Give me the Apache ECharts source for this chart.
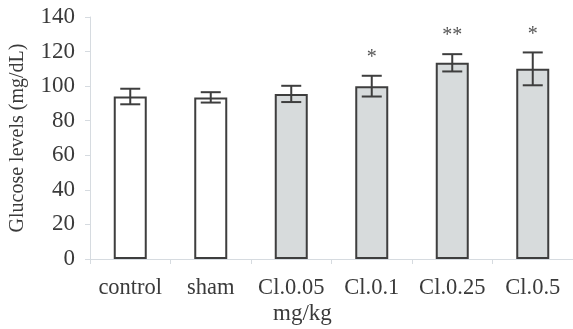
<!DOCTYPE html>
<html><head><meta charset="utf-8">
<script src="https://cdn.jsdelivr.net/npm/echarts@6/dist/echarts.min.js"></script>
<style>html,body{margin:0;padding:0;background:#fff}#c{width:573px;height:329px}</style>
</head><body><div id="c"></div>
<script>
const categories = ['control', 'sham', 'Cl.0.05', 'Cl.0.1', 'Cl.0.25', 'Cl.0.5'];
const means = [94, 93.5, 95.5, 100, 113.5, 110];
const errors = [4.5, 3, 4.7, 6, 5, 9.5];
const signif = ['', '', '', '*', '**', '*'];
const barFills = ['#ffffff', '#ffffff', '#d7dbdc', '#d7dbdc', '#d7dbdc', '#d7dbdc'];
const yTicks = [0, 20, 40, 60, 80, 100, 120, 140];

const chart = echarts.init(document.getElementById('c'), null, {renderer: 'canvas'});
const font = 'Liberation Serif';
chart.setOption({
  animation: false,
  backgroundColor: '#ffffff',
  grid: {left: 82, right: 0, top: 17, bottom: 70, containLabel: false},
  xAxis: {
    type: 'category', data: categories,
    axisLine: {lineStyle: {color: '#d6dbe0', width: 1}},
    axisTick: {show: true, length: 5, lineStyle: {color: '#d6dbe0'}},
    axisLabel: {color: '#3a3a3a', fontFamily: font, fontSize: 22.5, margin: 18, interval: 0, hideOverlap: false}
  },
  yAxis: {
    type: 'value', min: yTicks[0], max: yTicks[yTicks.length - 1], interval: 20,
    name: 'Glucose levels (mg/dL)', nameLocation: 'middle', nameGap: 62, nameRotate: 90,
    nameTextStyle: {color: '#3a3a3a', fontFamily: font, fontSize: 20},
    axisLine: {show: true, lineStyle: {color: '#d6dbe0', width: 1}},
    axisTick: {show: true, length: 5, lineStyle: {color: '#d6dbe0'}},
    splitLine: {show: false},
    axisLabel: {color: '#3a3a3a', fontFamily: font, fontSize: 23, margin: 15}
  },
  series: [
    {
      type: 'bar', barWidth: 33,
      data: means.map((v, i) => ({value: v, itemStyle: {color: barFills[i]}})),
      itemStyle: {borderColor: '#3e3e3e', borderWidth: 2}
    },
    {
      type: 'custom',
      data: means.map((v, i) => [i, v - errors[i], v + errors[i]]),
      renderItem: function (params, api) {
        const x = api.coord([api.value(0), 0])[0];
        const lo = api.coord([api.value(0), api.value(1)])[1];
        const hi = api.coord([api.value(0), api.value(2)])[1];
        const w = 10;
        const st = {stroke: '#3e3e3e', lineWidth: 2};
        const children = [
          {type: 'line', shape: {x1: x, y1: lo, x2: x, y2: hi}, style: st},
          {type: 'line', shape: {x1: x - w, y1: lo, x2: x + w, y2: lo}, style: st},
          {type: 'line', shape: {x1: x - w, y1: hi, x2: x + w, y2: hi}, style: st}
        ];
        const s = signif[params.dataIndex];
        if (s) {
          children.push({type: 'text', x: x, y: hi - 8,
            style: {text: s, fill: '#555', font: '20px "Liberation Serif"', align: 'center', verticalAlign: 'bottom'}});
        }
        return {type: 'group', children: children};
      },
      z: 5
    }
  ],
  graphic: [
    {type: 'text', left: 273, top: 302, style: {text: 'mg/kg', fill: '#3a3a3a', font: '23px "Liberation Serif"'}}
  ]
});
</script></body></html>
